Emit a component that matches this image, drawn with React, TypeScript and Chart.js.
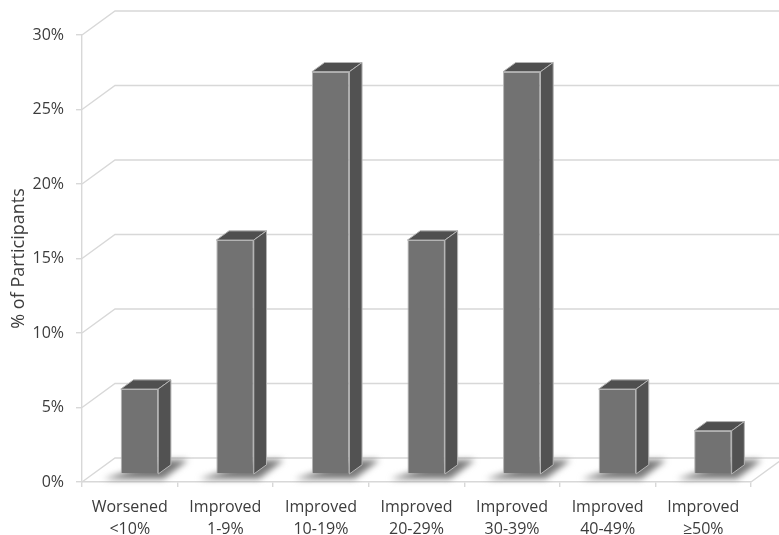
import React, { useEffect, useRef } from "react";
import { Chart, registerables } from "chart.js";

Chart.register(...registerables);

const categories: string[][] = [
  ["Worsened", "<10%"],
  ["Improved", "1-9%"],
  ["Improved", "10-19%"],
  ["Improved", "20-29%"],
  ["Improved", "30-39%"],
  ["Improved", "40-49%"],
  ["Improved", "≥50%"],
];
const participantsPct: number[] = [5.7, 15.7, 27.0, 15.7, 27.0, 5.7, 2.9];
const yAxisTitle = "% of Participants";
const yMax = 30;
const yStep = 5;

const FONT = '"Open Sans", sans-serif';
const WALL_DX = 33;
const WALL_DY = -24;
const BAR_SHIFT_X = 9.7;
const BAR_SHIFT_Y = -8;
const BAR_DX = 12.7;
const BAR_DY = -9.2;
const GRID = "#d8d8d8";
const TEXT = "#3c3c3c";

const scene3d = {
  id: "scene3d",
  beforeDatasetsDraw(chart: any) {
    const { ctx, chartArea, scales } = chart;
    const { left, right } = chartArea;
    ctx.save();
    ctx.strokeStyle = GRID;
    ctx.lineWidth = 1.4;
    for (const t of scales.y.ticks) {
      const y = scales.y.getPixelForValue(t.value);
      ctx.beginPath();
      ctx.moveTo(left, y);
      ctx.lineTo(left + WALL_DX, y + WALL_DY);
      ctx.lineTo(right + WALL_DX, y + WALL_DY);
      ctx.stroke();
    }
    const y0 = scales.y.getPixelForValue(0);
    ctx.beginPath();
    ctx.moveTo(right, y0);
    ctx.lineTo(right + WALL_DX, y0 + WALL_DY);
    ctx.stroke();
    // soft floor shadows cast by the bars
    ctx.filter = "blur(3px)";
    ctx.fillStyle = "#787878";
    for (const bar of chart.getDatasetMeta(0).data) {
      const hw = bar.width / 2;
      const fx = bar.x + BAR_SHIFT_X;
      const by = y0 + BAR_SHIFT_Y;
      ctx.beginPath();
      ctx.moveTo(fx - hw - 17, by + 5);
      ctx.lineTo(fx + hw + 5, by + 5);
      ctx.lineTo(fx + hw + 30, by - 14);
      ctx.lineTo(fx + hw + 6, by - 14);
      ctx.closePath();
      ctx.fill();
    }
    ctx.restore();
  },
  beforeDatasetDraw(chart: any) {
    chart.ctx.save();
    chart.ctx.translate(BAR_SHIFT_X, BAR_SHIFT_Y);
  },
  afterDatasetDraw(chart: any) {
    const { ctx, scales } = chart;
    const y0 = scales.y.getPixelForValue(0);
    ctx.strokeStyle = "#b4b4b4";
    ctx.lineWidth = 1;
    ctx.lineJoin = "round";
    for (const bar of chart.getDatasetMeta(0).data) {
      const hw = bar.width / 2;
      const l = bar.x - hw;
      const r = bar.x + hw;
      const t = bar.y;
      ctx.fillStyle = "#4f4f4f";
      ctx.beginPath();
      ctx.moveTo(l, t);
      ctx.lineTo(l + BAR_DX, t + BAR_DY);
      ctx.lineTo(r + BAR_DX, t + BAR_DY);
      ctx.lineTo(r, t);
      ctx.closePath();
      ctx.fill();
      ctx.stroke();
      ctx.fillStyle = "#525252";
      ctx.beginPath();
      ctx.moveTo(r, t);
      ctx.lineTo(r + BAR_DX, t + BAR_DY);
      ctx.lineTo(r + BAR_DX, y0 + BAR_DY);
      ctx.lineTo(r, y0);
      ctx.closePath();
      ctx.fill();
      ctx.stroke();
    }
    ctx.restore();
  },
};

export default function App() {
  const ref = useRef<HTMLCanvasElement>(null);
  useEffect(() => {
    const chart = new Chart(ref.current as HTMLCanvasElement, {
      type: "bar",
      data: {
        labels: categories,
        datasets: [
          {
            data: participantsPct,
            backgroundColor: "#727272",
            borderColor: "#b4b4b4",
            borderWidth: 1,
            categoryPercentage: 1,
            barPercentage: 0.392,
          },
        ],
      },
      options: {
        responsive: false,
        animation: false,
        layout: { autoPadding: false, padding: { left: 0, top: 35, right: 28, bottom: 0 } },
        plugins: { legend: { display: false }, tooltip: { enabled: false } },
        scales: {
          x: {
            afterFit(s: any) {
              s.height = 53;
            },
            border: { color: GRID, width: 1.4 },
            grid: { drawOnChartArea: false, color: GRID, tickLength: 5, lineWidth: 1.4 },
            ticks: {
              maxRotation: 0,
              autoSkip: false,
              padding: 9,
              color: TEXT,
              font: { family: FONT, size: 16, lineHeight: 1.4 },
            },
          },
          y: {
            min: 0,
            max: yMax,
            afterFit(s: any) {
              s.width = 82;
            },
            border: { color: GRID, width: 1.4 },
            grid: { drawOnChartArea: false, color: GRID, tickLength: 6, lineWidth: 1.4 },
            ticks: {
              stepSize: yStep,
              padding: 12,
              color: TEXT,
              font: { family: FONT, size: 16 },
              callback: (v: any) => `${v}%`,
            },
            title: {
              display: true,
              text: yAxisTitle,
              color: TEXT,
              padding: { top: 8, bottom: 0 },
              font: { family: FONT, size: 18 },
            },
          },
        },
      },
      plugins: [scene3d],
    } as any);
    return () => chart.destroy();
  }, []);
  return (
    <canvas
      ref={ref}
      width={779}
      height={535}
      style={{
        position: "fixed",
        left: 0,
        top: 0,
        display: "block",
        background: "#fff",
        filter: "blur(0.5px)",
      }}
    />
  );
}
